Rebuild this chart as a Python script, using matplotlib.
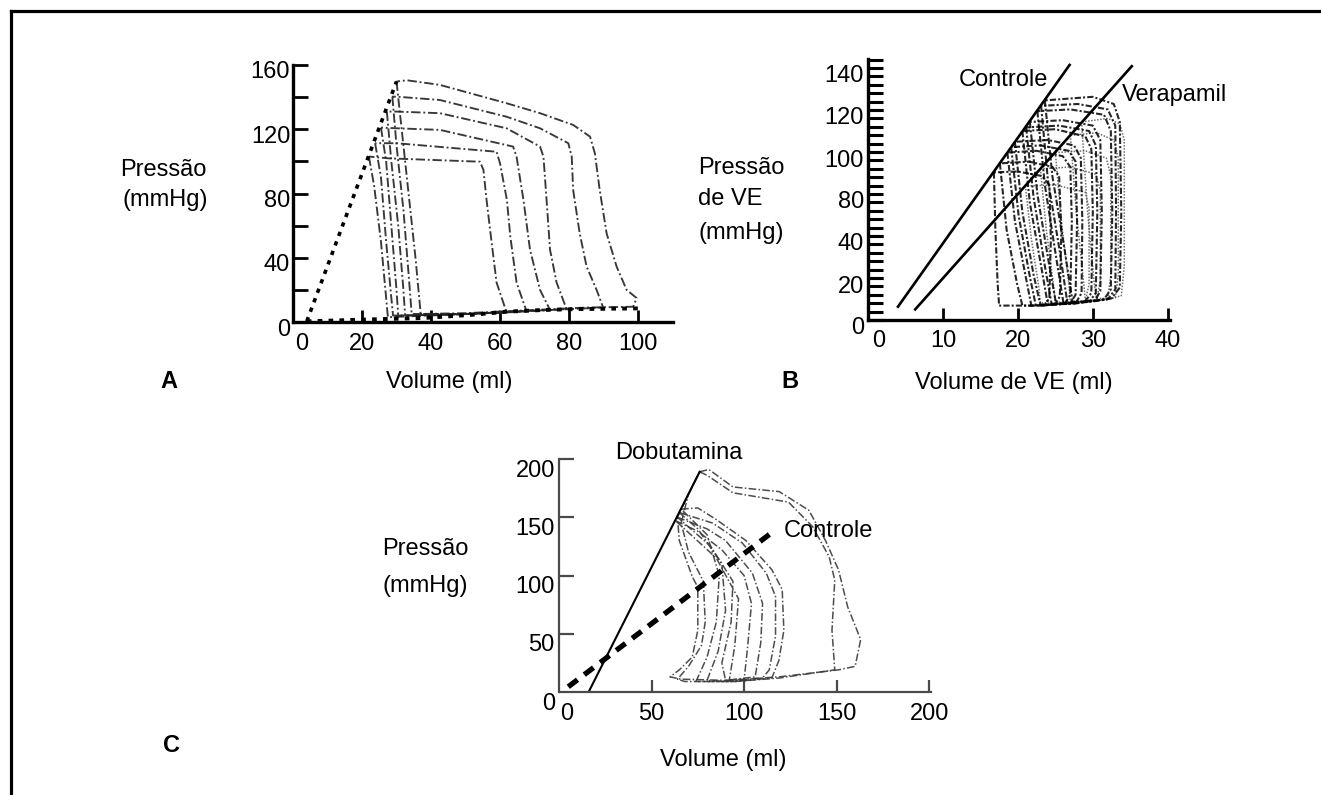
import matplotlib
matplotlib.use('Agg')
import matplotlib.pyplot as plt
import matplotlib.transforms as mtransforms
from matplotlib.lines import Line2D

plt.rcParams['font.family'] = ['Liberation Sans', 'DejaVu Sans']

# ---------------- data ----------------
# Panel A: pressure-volume loops (volume ml, pressure mmHg)
a_espvr_v = [4, 30]
a_espvr_p = [0.5, 149.7]
a_edpvr_v = [4, 20.4, 38, 52, 61.9, 71.6, 81.2, 100.6]
a_edpvr_p = [0.4, 1.5, 2.5, 4.5, 6.4, 7.4, 8.0, 8.5]

a_loop1 = [(30, 149.7), (31.5, 120), (33.5, 80), (35.5, 40), (36.8, 10), (37, 5), (50, 5.5), (70, 7.5),
           (85, 9), (98.6, 9.5), (99.6, 14.9), (96.7, 20), (93.8, 34.5), (90.9, 55.2), (88.9, 82.2),
           (87.5, 105), (86.1, 115.4), (81.2, 122.7), (71.6, 130), (61.9, 136.2), (42.6, 147.6),
           (33, 150.5), (30, 149.7)]
a_loop2 = [(28.8, 140.3), (30, 110), (32, 70), (33.5, 30), (34.4, 5), (50, 5), (70, 7), (89.9, 9),
           (88, 20), (85.1, 34.5), (83.1, 55.2), (81.2, 82.2), (80.8, 102.9), (79.8, 111.3),
           (71.6, 120.6), (61.9, 127.8), (42.6, 138.2), (30, 140.3), (28.8, 140.3)]
a_loop3 = [(27.2, 131), (28.5, 100), (30.5, 60), (32, 20), (32.5, 4), (50, 5), (65, 6.5), (79.3, 8),
           (76.4, 24.6), (74.5, 45), (73.5, 76), (72.6, 102.9), (71.6, 109.2), (61.9, 120.6),
           (42.6, 130), (30, 131), (27.2, 131)]
a_loop4 = [(25.5, 121), (27, 100), (28.5, 60), (30, 20), (30.5, 4), (50, 5), (74.5, 7.5), (71.6, 20),
           (68.7, 45), (66.8, 76), (64.8, 102.9), (63.8, 109.2), (42.6, 119.6), (30, 120.6), (25.5, 121)]
a_loop5 = [(23.8, 111.3), (25.5, 90), (27, 50), (28.5, 15), (29, 4), (45, 4.5), (67.7, 6.5), (64.8, 24.6),
           (63, 53), (62, 76), (60, 98.8), (59, 106), (30, 111.3), (23.8, 111.3)]
a_loop6 = [(22, 103), (23.5, 85), (25.5, 50), (27, 15), (27.5, 3), (45, 4.5), (61.9, 6), (59, 24.6),
           (57.6, 49), (56.1, 76), (55.2, 94.7), (54.2, 99.8), (27.6, 101.9), (22, 103)]
a_loops = [a_loop1, a_loop2, a_loop3, a_loop4, a_loop5, a_loop6]
a_xticks = [0, 20, 40, 60, 80, 100]
a_yticks = [0, 40, 80, 120, 160]
a_yminor = [20, 60, 100, 140]

# Panel B: LV pressure-volume loops, control vs verapamil
b_ctrl_v = [4.0, 26.9]
b_ctrl_p = [7.4, 141.7]
b_vera_v = [6.3, 35.2]
b_vera_p = [5.9, 141.0]
b_ctrl_loops = [
    [(23.6, 122), (24.6, 80), (26.2, 40), (27.3, 10), (30, 10.5), (32.5, 12), (33.6, 18), (33.8, 60),
     (33.6, 110), (32.8, 120), (30, 124), (23.6, 122)],
    [(23.1, 119), (24.0, 78), (25.6, 38), (26.6, 9.5), (29.5, 10), (32, 11.5), (33, 17), (33.1, 60),
     (33, 108), (32, 117), (28, 120), (23.1, 119)],
    [(22.6, 116), (23.6, 75), (25.1, 35), (26.1, 9), (29, 10), (31.5, 11.5), (32.4, 17), (32.6, 60),
     (32.4, 105), (31.5, 114), (27, 117), (22.6, 116)],
    [(21.6, 110), (22.6, 70), (24.2, 30), (25.1, 9), (28, 9.5), (30.3, 11), (31, 16), (31.2, 60),
     (31, 100), (30, 108), (26, 111), (21.6, 110)],
    [(21.1, 107), (22.1, 68), (23.6, 30), (24.5, 9), (27.5, 9), (29.6, 10.5), (30.4, 15), (30.6, 60),
     (30.4, 97), (29.5, 105), (25.5, 108), (21.1, 107)],
    [(20.6, 105), (21.6, 65), (23.1, 30), (24, 8.5), (27, 9), (29, 10.5), (29.8, 15), (30, 60),
     (29.8, 95), (29, 102), (25, 106), (20.6, 105)],
    [(19.6, 99), (20.6, 60), (22.1, 25), (23, 8.5), (26, 9), (27.8, 10), (28.5, 15), (28.6, 55),
     (28.4, 90), (27.5, 97), (24, 100), (19.6, 99)],
    [(19.1, 96), (20.1, 58), (21.6, 24), (22.4, 8), (25.3, 8.5), (27, 9.5), (27.7, 14), (27.9, 55),
     (27.7, 88), (26.8, 94), (23, 97), (19.1, 96)],
    [(18.6, 93), (19.6, 55), (21, 25), (21.8, 8), (24.5, 8.5), (26.3, 9.5), (27, 14), (27.2, 55),
     (27, 85), (26, 91), (22.5, 94), (18.6, 93)],
    [(17.6, 87), (18.5, 50), (19.9, 20), (20.6, 8), (23.5, 8), (25, 9), (25.6, 13), (25.8, 50),
     (25.5, 80), (24.6, 85), (21.5, 88), (17.6, 87)],
    [(16.8, 82), (17.0, 50), (17.3, 20), (17.5, 8), (22, 8), (23.6, 8.5), (24.2, 12), (24.4, 45),
     (24.2, 75), (23.2, 80), (20, 82.5), (16.8, 82)],
]
b_vera_loops = [
    [(28.5, 110), (29.3, 60), (30.2, 20), (30.5, 12), (32.5, 12), (33.8, 13.5), (34.2, 30), (34.2, 100),
     (33.6, 109), (32, 112), (28.5, 110)],
    [(27, 102.6), (27.8, 60), (28.8, 20), (29, 11), (31.5, 11), (33, 12.5), (33.4, 25), (33.4, 90),
     (32.8, 100), (30.5, 104), (27, 102.6)],
    [(25, 93), (25.8, 55), (26.8, 20), (27, 10.5), (30, 10.5), (32, 12), (32.4, 25), (32.4, 80),
     (31.8, 90), (29, 94), (25, 93)],
    [(23, 84), (23.8, 50), (24.8, 18), (25, 10), (28, 10), (30.5, 11), (31, 22), (31, 72),
     (30.4, 81), (27, 85), (23, 84)],
    [(21, 74.5), (21.8, 45), (22.8, 18), (23, 9.5), (26.5, 9.5), (29, 10.5), (29.5, 20), (29.5, 62),
     (29, 71), (25, 75), (21, 74.5)],
]
b_xlabels_at = [0, 10, 20, 30, 40]
b_ytick_pos = [0, 23.33, 46.67, 70, 93.33, 116.67, 140]
b_ytick_labels = ['0', '20', '40', '80', '100', '120', '140']

# Panel C: dobutamine vs control
c_dobu_v = [16, 76]
c_dobu_p = [0, 189]
c_ctrl_v = [5, 114.3]
c_ctrl_p = [4.5, 136]
c_loops = [
    [(76, 189), (81, 191), (94, 176), (119, 172), (135, 156), (144, 130), (151, 105), (156, 73), (163, 45),
     (160, 22), (151, 19), (119, 13), (90, 10), (66, 11), (60, 13), (65, 19), (72, 30), (75, 53), (75, 90),
     (72, 99), (65, 130), (64, 150), (70, 170), (76, 189)],
    [(76, 189), (80, 186), (94, 171), (124, 163), (137, 142), (146, 116), (149, 96), (147.5, 53), (149, 19),
     (119, 12), (95, 9), (68, 9), (64, 11), (70, 22), (77, 40), (79, 60), (78, 95), (70, 120), (66, 145),
     (70, 170), (76, 189)],
    [(66, 157), (75, 158), (85, 148), (101, 130), (115, 105), (120.6, 88), (121.5, 53), (118.8, 27),
     (115, 12), (95, 9), (74, 9), (80, 30), (85, 60), (86.6, 100), (80, 135), (66, 157)],
    [(65, 154), (83, 145), (99, 128), (112, 102), (117, 82), (117, 48), (113.6, 19), (110, 12), (90, 9),
     (80, 10), (86, 35), (90, 70), (88, 110), (75, 140), (65, 154)],
    [(64, 150), (80, 140), (90, 130), (104.5, 102), (110, 76), (109, 42), (106, 13), (90, 10), (88, 25),
     (93, 60), (94, 95), (82, 125), (64, 150)],
    [(63, 147), (75, 138), (88, 122), (100, 100), (104, 76), (102, 40), (100, 10), (92, 10), (95, 40),
     (97, 80), (85, 115), (63, 147)],
]
c_xlabels_at = [0, 50, 100, 150, 200]
c_yticks = [0, 50, 100, 150, 200]

# ---------------- figure ----------------
W, H = 1321, 795
fig = plt.figure(figsize=(W / 100, H / 100), dpi=100)
FS = 17


def px_rect(left, top, right, bottom):
    return [left / W, 1 - bottom / H, (right - left) / W, (bottom - top) / H]


def ftext(x, y, s, **kw):
    kw.setdefault('fontsize', FS)
    kw.setdefault('va', 'center')
    kw.setdefault('ha', 'center')
    fig.text(x / W, 1 - y / H, s, **kw)


def shift_labels(labels, dx_px, dy_px):
    for lab in labels:
        lab.set_transform(lab.get_transform() +
                          mtransforms.ScaledTranslation(dx_px / 100, dy_px / 100, fig.dpi_scale_trans))


def style_axes(ax, lw, color):
    for s in ('top', 'right'):
        ax.spines[s].set_visible(False)
    for s in ('left', 'bottom'):
        ax.spines[s].set_linewidth(lw)
        ax.spines[s].set_color(color)
    ax.set_facecolor('none')


def draw_loop(ax, loop, **kw):
    xs = [p[0] for p in loop]
    ys = [p[1] for p in loop]
    ax.plot(xs, ys, **kw)


# ----- Panel A -----
axA = fig.add_axes(px_rect(293, 65, 672.5, 322))
axA.set_xlim(0, 110)
axA.set_ylim(0, 160)
style_axes(axA, 2.4, 'black')
for lp in a_loops:
    draw_loop(axA, lp, color='#222222', lw=1.35, ls=(0, (5, 1.5, 1, 1.5)), alpha=0.9)
axA.plot(a_espvr_v, a_espvr_p, color='black', lw=2.6, ls=(0, (1.2, 1.6)))
axA.plot(a_edpvr_v, a_edpvr_p, color='black', lw=2.8, ls=(0, (1.2, 1.6)))
axA.set_xticks(a_xticks)
axA.set_yticks(a_yticks)
axA.set_yticks(a_yminor, minor=True)
axA.tick_params(axis='y', which='both', direction='in', length=11, width=2, pad=2, labelsize=FS)
axA.tick_params(axis='x', which='both', direction='in', length=9, width=2, pad=8, labelsize=FS)
shift_labels(axA.get_yticklabels(), 0, -5)
shift_labels(axA.get_xticklabels()[:1], 9, 0)

ftext(163, 170, 'Pressão')
ftext(165, 200, '(mmHg)')
ftext(449, 382, 'Volume (ml)')
ftext(169, 382, 'A', fontweight='bold')

# ----- Panel B -----
axB = fig.add_axes(px_rect(868, 59, 1170, 320))
axB.set_xlim(0, 40.3)
axB.set_ylim(0, 145)
style_axes(axB, 2.4, 'black')
for lp in b_vera_loops:
    draw_loop(axB, lp, color='#555555', lw=1.1, ls=(0, (1, 1)), alpha=0.85)
for lp in b_ctrl_loops:
    draw_loop(axB, lp, color='black', lw=1.5, ls=(0, (3, 1, 1, 1)), alpha=0.85)
axB.plot(b_ctrl_v, b_ctrl_p, color='black', lw=1.9)
axB.plot(b_vera_v, b_vera_p, color='black', lw=1.9)
axB.set_xticks(b_xlabels_at)
axB.set_yticks(b_ytick_pos)
axB.set_yticklabels(b_ytick_labels)
axB.set_yticks([i * 140 / 30 for i in range(32)], minor=True)
axB.tick_params(axis='y', which='both', direction='in', length=11, width=2.2, pad=3, labelsize=FS)
axB.tick_params(axis='x', which='both', direction='in', length=9, width=2, pad=7, labelsize=FS)
shift_labels(axB.get_yticklabels(), 0, -6)
shift_labels(axB.get_xticklabels()[:1], 11, 0)

ftext(698, 168, 'Pressão', ha='left')
ftext(698, 199, 'de VE', ha='left')
ftext(698, 233, '(mmHg)', ha='left')
ftext(1014, 383, 'Volume de VE (ml)')
ftext(790, 382, 'B', fontweight='bold')
ftext(1003, 80, 'Controle')
ftext(1122, 95, 'Verapamil', ha='left')

# ----- Panel C -----
axC = fig.add_axes(px_rect(559, 459, 931, 692))
axC.set_xlim(0, 201)
axC.set_ylim(0, 200)
style_axes(axC, 1.6, '#4a4a4a')
axC.spines['bottom'].set_bounds(8.6, 201)
for lp in c_loops:
    draw_loop(axC, lp, color='#3a3a3a', lw=1.1, ls=(0, (5, 1.5, 1, 1.5)), alpha=0.9)
axC.plot(c_dobu_v, c_dobu_p, color='black', lw=1.5)
axC.plot(c_ctrl_v, c_ctrl_p, color='black', lw=3.8, ls=(0, (2.2, 1.6)))
axC.set_xticks(c_xlabels_at)
axC.set_yticks(c_yticks)
axC.tick_params(axis='y', direction='in', length=11, width=1.6, color='#4a4a4a', pad=3, labelsize=FS)
axC.tick_params(axis='x', direction='in', length=9, width=1.6, color='#4a4a4a', pad=8, labelsize=FS)
shift_labels(axC.get_yticklabels(), 0, -9)
shift_labels(axC.get_xticklabels()[:1], 8, 0)
axC.xaxis.get_major_ticks()[0].tick1line.set_visible(False)

ftext(382, 549, 'Pressão', ha='left')
ftext(383, 586, '(mmHg)', ha='left')
ftext(723, 760, 'Volume (ml)')
ftext(172, 745, 'C', fontweight='bold')
ftext(679, 453, 'Dobutamina')
ftext(828, 531, 'Controle')

# ----- frame (top and left edges) -----
fig.add_artist(Line2D([10.5 / W, 1], [1 - 10.5 / H, 1 - 10.5 / H], transform=fig.transFigure,
                      color='black', lw=2.3))
fig.add_artist(Line2D([10.5 / W, 10.5 / W], [0, 1 - 10.5 / H], transform=fig.transFigure,
                      color='black', lw=2.3))

fig.savefig('out.png', dpi=100)
